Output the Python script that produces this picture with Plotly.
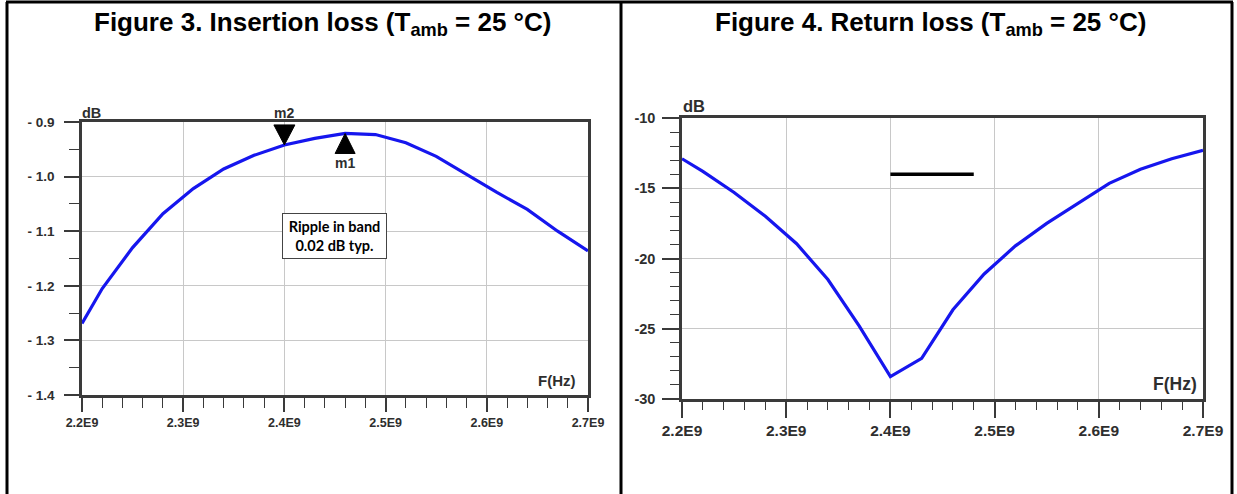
import plotly.graph_objects as go

# ---- data -------------------------------------------------------------
freq_hz = [2.20e9, 2.22e9, 2.25e9, 2.28e9, 2.31e9, 2.34e9, 2.37e9, 2.40e9, 2.43e9,
           2.46e9, 2.49e9, 2.52e9, 2.55e9, 2.58e9, 2.61e9, 2.64e9, 2.67e9, 2.70e9]
insertion_loss_db = [-1.269, -1.205, -1.130, -1.068, -1.022, -0.986, -0.961, -0.942, -0.930,
                     -0.921, -0.923, -0.938, -0.963, -0.996, -1.029, -1.060, -1.100, -1.136]
return_loss_db = [-12.9, -13.8, -15.3, -17.0, -18.95, -21.5, -24.8, -28.4, -27.1,
                  -23.65, -21.1, -19.1, -17.5, -16.1, -14.65, -13.65, -12.9, -12.3]

x_tick_vals = [2.2e9, 2.3e9, 2.4e9, 2.5e9, 2.6e9, 2.7e9]
x_tick_labels = ["2.2E9", "2.3E9", "2.4E9", "2.5E9", "2.6E9", "2.7E9"]
il_tick_vals = [-0.9, -1.0, -1.1, -1.2, -1.3, -1.4]
il_tick_labels = ["- 0.9", "- 1.0", "- 1.1", "- 1.2", "- 1.3", "- 1.4"]
rl_tick_vals = [-10, -15, -20, -25, -30]
rl_tick_labels = ["-10", "-15", "-20", "-25", "-30"]

m1_index = 9   # 2.46 GHz
m2_index = 7   # 2.40 GHz
spec_freq = [2.40e9, 2.48e9]
spec_level = [-14, -14]

# ---- page geometry ----------------------------------------------------
W, H = 1237, 494


def px(x):
    return x / W


def py(y):
    return 1 - y / H


CURVE = "rgb(22,22,238)"
FRAME = "#3a3a3a"
GRID = "#c8c8c8"
TXT = "#2e2e2e"
FONT = "Liberation Sans, Arial, sans-serif"

x_minor = [2.2e9 + i * 0.02e9 for i in range(26)]
il_minor = [-0.9 - i * 0.05 for i in range(11)]
rl_minor = [-10 - i for i in range(21)]

fig = go.Figure()

fig.add_trace(go.Scatter(x=freq_hz, y=insertion_loss_db, mode="lines",
                         line=dict(color=CURVE, width=3.2), xaxis="x", yaxis="y",
                         showlegend=False, hoverinfo="skip"))
fig.add_trace(go.Scatter(x=freq_hz, y=return_loss_db, mode="lines",
                         line=dict(color=CURVE, width=3.2), xaxis="x2", yaxis="y2",
                         showlegend=False, hoverinfo="skip"))
fig.add_trace(go.Scatter(x=spec_freq, y=spec_level, mode="lines",
                         line=dict(color="black", width=3.5), xaxis="x2", yaxis="y2",
                         showlegend=False, hoverinfo="skip"))


def x_axis(domain, anchor, ticklen, minorlen, fsize):
    return dict(domain=domain, anchor=anchor, range=[2.2e9, 2.7e9], automargin=False,
                tickmode="array", tickvals=x_tick_vals, ticktext=x_tick_labels,
                ticks="outside", ticklen=ticklen, tickwidth=1.5, tickcolor=FRAME,
                minor=dict(tickmode="array", tickvals=x_minor, ticks="outside",
                           ticklen=minorlen, tickwidth=1.2, tickcolor=FRAME, showgrid=False),
                showgrid=True, gridcolor=GRID, gridwidth=1, zeroline=False,
                showline=True, mirror=True, linecolor=FRAME, linewidth=2.5,
                tickfont=dict(family=FONT, size=fsize, color=TXT, weight="bold"),
                fixedrange=True)


def y_axis(domain, anchor, rng, vals, labels, minor_vals, ticklen, minorlen, fsize, standoff):
    return dict(domain=domain, anchor=anchor, range=rng, automargin=False,
                tickmode="array", tickvals=vals, ticktext=labels,
                ticks="outside", ticklen=ticklen, tickwidth=1.5, tickcolor=FRAME,
                minor=dict(tickmode="array", tickvals=minor_vals, ticks="outside",
                           ticklen=minorlen, tickwidth=1.2, tickcolor=FRAME, showgrid=False),
                showgrid=True, gridcolor=GRID, gridwidth=1, zeroline=False,
                showline=True, mirror=True, linecolor=FRAME, linewidth=2.5,
                tickfont=dict(family=FONT, size=fsize, color=TXT, weight="bold"),
                ticklabelstandoff=standoff, fixedrange=True)


# marker triangles drawn in pixel units, anchored on the curve points
m1_x, m1_y = freq_hz[m1_index], insertion_loss_db[m1_index]
m2_x, m2_y = freq_hz[m2_index], insertion_loss_db[m2_index]

shapes = [
    # outer frame and panel divider
    dict(type="line", xref="paper", yref="paper", x0=px(7), x1=px(7), y0=0, y1=py(2),
         line=dict(color="black", width=3)),
    dict(type="line", xref="paper", yref="paper", x0=px(621), x1=px(621), y0=0, y1=py(2),
         line=dict(color="black", width=3)),
    dict(type="line", xref="paper", yref="paper", x0=px(1232), x1=px(1232), y0=0, y1=py(2),
         line=dict(color="black", width=3)),
    dict(type="line", xref="paper", yref="paper", x0=px(6), x1=px(1233), y0=py(2), y1=py(2),
         line=dict(color="black", width=3)),
    dict(type="path", xref="x", yref="y", xsizemode="pixel", ysizemode="pixel",
         xanchor=m1_x, yanchor=m1_y, path="M 0,0 L 10,-20 L -10,-20 Z",
         fillcolor="black", line=dict(color="black", width=1)),
    dict(type="path", xref="x", yref="y", xsizemode="pixel", ysizemode="pixel",
         xanchor=m2_x, yanchor=m2_y, path="M 0,0 L 10.5,20 L -10.5,20 Z",
         fillcolor="black", line=dict(color="black", width=1)),
]

annotations = [
    dict(text="Figure 3. Insertion loss (T<sub>amb</sub> = 25 °C)", xref="paper", yref="paper",
         x=px(322), y=py(23), showarrow=False, xanchor="center", yanchor="middle",
         font=dict(family=FONT, size=26, color="black", weight="bold")),
    dict(text="Figure 4. Return loss (T<sub>amb</sub> = 25 °C)", xref="paper", yref="paper",
         x=px(930), y=py(23), showarrow=False, xanchor="center", yanchor="middle",
         font=dict(family=FONT, size=26, color="black", weight="bold")),
    dict(text="dB", xref="paper", yref="paper", x=px(80), y=py(113), showarrow=False,
         xanchor="left", yanchor="middle", font=dict(family=FONT, size=14.5, color=TXT, weight="bold")),
    dict(text="dB", xref="paper", yref="paper", x=px(681), y=py(106), showarrow=False,
         xanchor="left", yanchor="middle", font=dict(family=FONT, size=16.5, color=TXT, weight="bold")),
    dict(text="F(Hz)", xref="paper", yref="paper", x=px(578), y=py(380), showarrow=False,
         xanchor="right", yanchor="middle", font=dict(family=FONT, size=15, color=TXT, weight="bold")),
    dict(text="F(Hz)", xref="paper", yref="paper", x=px(1199), y=py(384), showarrow=False,
         xanchor="right", yanchor="middle", font=dict(family=FONT, size=17.5, color=TXT, weight="bold")),
    dict(text="m2", xref="x", yref="paper", x=m2_x, y=py(113), showarrow=False,
         xanchor="center", yanchor="middle", font=dict(family=FONT, size=14, color=TXT, weight="bold")),
    dict(text="m1", xref="x", yref="paper", x=m1_x, y=py(163), showarrow=False,
         xanchor="center", yanchor="middle", font=dict(family=FONT, size=14, color=TXT, weight="bold")),
    dict(text="Ripple in band<br>0.02 dB typ.", xref="x", yref="y", x=2.4495e9, y=-1.1096,
         showarrow=False, xanchor="center", yanchor="middle", width=103, height=44,
         bgcolor="white", bordercolor="#444", borderwidth=1, borderpad=0, align="center",
         font=dict(family="Lato, Open Sans, sans-serif", size=14.5, color="black", weight="bold")),
]

fig.update_layout(
    width=W, height=H, margin=dict(l=0, r=0, t=0, b=0, autoexpand=False),
    paper_bgcolor="white", plot_bgcolor="white", showlegend=False,
    xaxis=x_axis([px(82), px(588)], "y", 14, 10, 12.5),
    yaxis=y_axis([py(395), py(122)], "x", [-1.4, -0.9], il_tick_vals, il_tick_labels,
                 il_minor, 15, 10, 13.5, 7),
    xaxis2=x_axis([px(682), px(1203)], "y2", 16, 8, 15.5),
    yaxis2=y_axis([py(399), py(118)], "x2", [-30, -10], rl_tick_vals, rl_tick_labels,
                  rl_minor, 17, 9, 14.5, 4),
    shapes=shapes, annotations=annotations,
)

fig.write_html("out.html")
